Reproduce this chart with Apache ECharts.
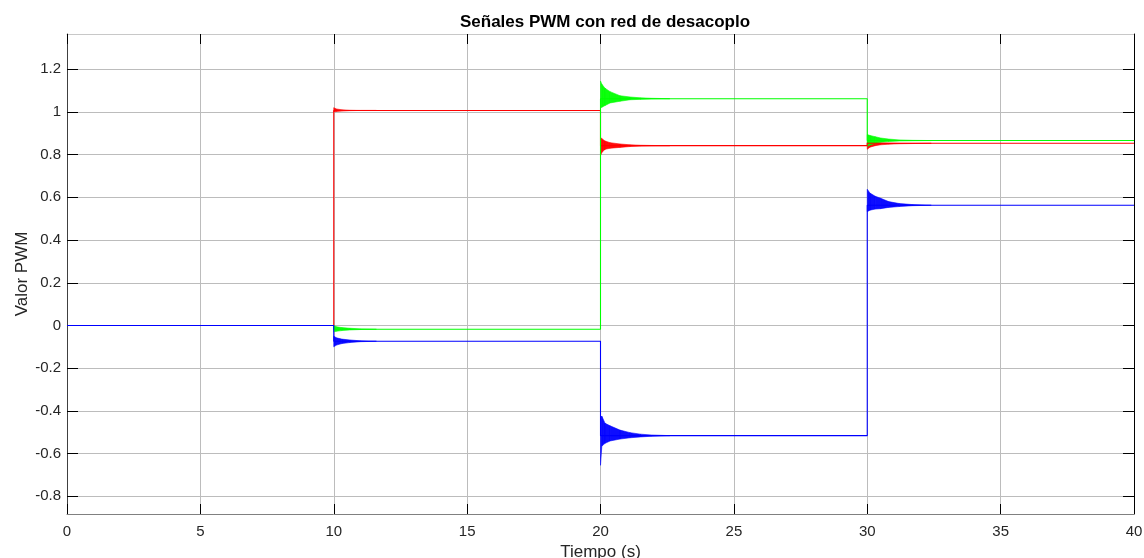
<!DOCTYPE html>
<html>
<head>
<meta charset="utf-8">
<title>Señales PWM con red de desacoplo</title>
<script src="https://cdn.jsdelivr.net/npm/echarts@6/dist/echarts.min.js"></script>
<style>
  html, body { margin: 0; padding: 0; background: #ffffff; }
  #chart { width: 1144px; height: 558px; }
</style>
</head>
<body>
<div id="chart"></div>
<script>
// Switching instants (s) and the settled PWM level of each channel between them
const times = [0, 10, 20, 30, 40];
const pwmRed = [0, 1.007, 0.842, 0.853];
const pwmGreen = [0, -0.018, 1.062, 0.866];
const pwmBlue = [0, -0.074, -0.516, 0.563];

// Envelope (upper / lower) of the decaying ripple after each step
const burstT10 = [10.0, 10.1, 10.3, 10.6, 11.0, 11.6];
const redHi10 = [1.02, 1.014, 1.010, 1.008, 1.007, 1.007];
const redLo10 = [1.0, 1.002, 1.004, 1.006, 1.007, 1.007];
const greenHi10 = [0.0, -0.006, -0.010, -0.013, -0.016, -0.018];
const greenLo10 = [-0.03, -0.027, -0.024, -0.021, -0.019, -0.018];
const blueHi10 = [-0.05, -0.058, -0.064, -0.068, -0.072, -0.074];
const blueLo10 = [-0.10, -0.092, -0.085, -0.080, -0.076, -0.074];

const burstT20 = [20.0, 20.05, 20.17, 20.36, 20.73, 21.11, 21.5, 21.9, 22.6];
const redHi20 = [0.881, 0.875, 0.864, 0.856, 0.850, 0.846, 0.844, 0.843, 0.842];
const redLo20 = [0.795, 0.810, 0.825, 0.830, 0.834, 0.838, 0.840, 0.841, 0.842];
const greenHi20 = [1.145, 1.130, 1.111, 1.095, 1.076, 1.070, 1.066, 1.064, 1.062];
const greenLo20 = [1.019, 1.022, 1.030, 1.042, 1.050, 1.057, 1.059, 1.061, 1.062];
const blueHi20 = [-0.430, -0.425, -0.458, -0.470, -0.490, -0.502, -0.509, -0.513, -0.516];
const blueLo20 = [-0.655, -0.565, -0.552, -0.541, -0.532, -0.526, -0.522, -0.519, -0.516];

const burstT30 = [30.0, 30.1, 30.3, 30.5, 30.8, 31.2, 31.7, 32.4];
const redHi30 = [0.860, 0.858, 0.856, 0.855, 0.854, 0.853, 0.853, 0.853];
const redLo30 = [0.825, 0.835, 0.842, 0.846, 0.849, 0.851, 0.852, 0.853];
const greenHi30 = [0.894, 0.890, 0.884, 0.878, 0.873, 0.869, 0.867, 0.866];
const greenLo30 = [0.838, 0.845, 0.853, 0.858, 0.861, 0.864, 0.865, 0.866];
const blueHi30 = [0.638, 0.620, 0.605, 0.596, 0.580, 0.571, 0.566, 0.563];
const blueLo30 = [0.533, 0.540, 0.545, 0.547, 0.553, 0.557, 0.561, 0.563];

// Axis ticks
const xTicks = [0, 5, 10, 15, 20, 25, 30, 35, 40];
const yTicks = [-0.8, -0.6, -0.4, -0.2, 0, 0.2, 0.4, 0.6, 0.8, 1, 1.2];
const yMin = -0.883;
const yMax = 1.365;

const RED = '#ff0000';
const GREEN = '#00ff00';
const BLUE = '#0000ff';

// Piecewise-constant trace: hold each level until the next switching instant
function stepData(levels) {
  const pts = [];
  for (let i = 0; i < levels.length; i++) {
    pts.push([times[i], levels[i]]);
    pts.push([times[i + 1], levels[i]]);
  }
  return pts;
}

// Segments of a ripple envelope: [t0, hi0, lo0, t1, hi1, lo1]
function bandData(t, hi, lo) {
  const rows = [];
  for (let i = 0; i < t.length - 1; i++) {
    rows.push([t[i], hi[i], lo[i], t[i + 1], hi[i + 1], lo[i + 1]]);
  }
  return rows;
}

function bandSeries(t, hi, lo, color) {
  return {
    type: 'custom',
    coordinateSystem: 'cartesian2d',
    xAxisIndex: 0,
    yAxisIndex: 0,
    silent: true,
    clip: true,
    encode: { x: [0, 3], y: [1, 2, 4, 5] },
    data: bandData(t, hi, lo),
    renderItem: function (params, api) {
      const a = api.coord([api.value(0), api.value(1)]);
      const b = api.coord([api.value(3), api.value(4)]);
      const c = api.coord([api.value(3), api.value(5)]);
      const d = api.coord([api.value(0), api.value(2)]);
      return {
        type: 'polygon',
        shape: { points: [a, b, c, d] },
        style: { fill: color, stroke: color, lineWidth: 0.6, opacity: 0.95 }
      };
    }
  };
}

function lineSeries(levels, color) {
  return {
    type: 'line',
    xAxisIndex: 0,
    yAxisIndex: 0,
    data: stepData(levels),
    showSymbol: false,
    symbol: 'none',
    silent: true,
    lineStyle: { color: color, width: 1.1 },
    itemStyle: { color: color }
  };
}

const FONT = 'Liberation Sans, Arial, sans-serif';
const fmtY = v => String(Math.round(v * 10) / 10);
const tickFont = { fontFamily: FONT, fontSize: 15, color: '#262626' };

const chart = echarts.init(document.getElementById('chart'), null, { renderer: 'canvas' });

chart.setOption({
  animation: false,
  backgroundColor: '#ffffff',
  title: {
    text: 'Señales PWM con red de desacoplo',
    left: 600,
    top: 9,
    textAlign: 'center',
    textStyle: { fontFamily: FONT, fontSize: 17, fontWeight: 'bold', color: '#000000' }
  },
  grid: { left: 67, top: 34, width: 1067, height: 480, containLabel: false, outerBoundsMode: 'none' },
  xAxis: [
    {
      type: 'value',
      min: 0, max: 40, interval: 5,
      position: 'bottom',
      name: 'Tiempo (s)',
      nameLocation: 'middle',
      nameGap: 30,
      nameTextStyle: { fontFamily: FONT, fontSize: 17, color: '#262626' },
      axisLine: { show: true, onZero: false, lineStyle: { color: '#808080', width: 1 } },
      axisTick: { show: true, inside: true, length: 10, lineStyle: { color: '#000000', width: 1 } },
      axisLabel: Object.assign({ margin: 10, formatter: v => String(v) }, tickFont),
      splitLine: { show: true, lineStyle: { color: '#bcbcbc', width: 1 } }
    },
    {
      type: 'value',
      min: 0, max: 40, interval: 5,
      position: 'top',
      axisLine: { show: true, onZero: false, lineStyle: { color: '#c8c8c8', width: 1 } },
      axisTick: { show: true, inside: true, length: 10, lineStyle: { color: '#000000', width: 1 } },
      axisLabel: { show: false },
      splitLine: { show: false }
    }
  ],
  yAxis: [
    {
      type: 'value',
      min: yMin, max: yMax,
      position: 'left',
      name: 'Valor PWM',
      nameLocation: 'middle',
      nameGap: 36,
      nameMoveOverlap: false,
      nameTextStyle: { fontFamily: FONT, fontSize: 17, color: '#262626' },
      axisLine: { show: true, onZero: false, lineStyle: { color: '#404040', width: 1 } },
      axisTick: { show: true, inside: true, length: 11, customValues: yTicks, lineStyle: { color: '#000000', width: 1 } },
      axisLabel: Object.assign({ margin: 6, customValues: yTicks, formatter: fmtY }, tickFont),
      splitLine: { show: true, lineStyle: { color: '#bcbcbc', width: 1 } }
    },
    {
      type: 'value',
      min: yMin, max: yMax,
      position: 'right',
      axisLine: { show: true, onZero: false, lineStyle: { color: '#000000', width: 1 } },
      axisTick: { show: true, inside: true, length: 11, customValues: yTicks, lineStyle: { color: '#000000', width: 1 } },
      axisLabel: { show: false, customValues: yTicks },
      splitLine: { show: false }
    }
  ],
  series: [
    lineSeries(pwmRed, RED),
    bandSeries(burstT10, redHi10, redLo10, RED),
    bandSeries(burstT20, redHi20, redLo20, RED),
    bandSeries(burstT30, redHi30, redLo30, RED),
    lineSeries(pwmGreen, GREEN),
    bandSeries(burstT10, greenHi10, greenLo10, GREEN),
    bandSeries(burstT20, greenHi20, greenLo20, GREEN),
    bandSeries(burstT30, greenHi30, greenLo30, GREEN),
    lineSeries(pwmBlue, BLUE),
    bandSeries(burstT10, blueHi10, blueLo10, BLUE),
    bandSeries(burstT20, blueHi20, blueLo20, BLUE),
    bandSeries(burstT30, blueHi30, blueLo30, BLUE)
  ]
});
</script>
</body>
</html>
